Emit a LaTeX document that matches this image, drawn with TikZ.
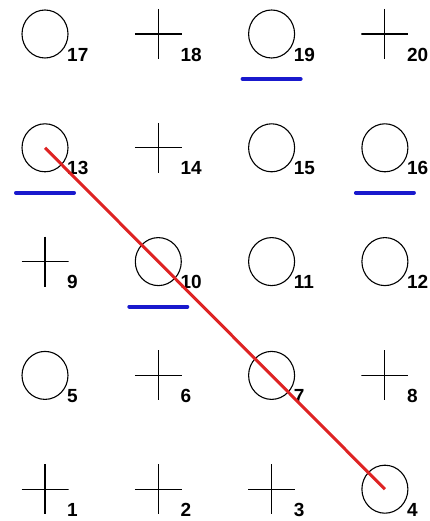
\documentclass[tikz,border=0pt]{standalone}
\usepackage{fontspec}
\setmainfont{Liberation Sans}
\usetikzlibrary{shapes.geometric,calc}
\definecolor{ublue}{RGB}{25,25,205}
\definecolor{ured}{RGB}{222,35,35}
\tikzset{
  ring/.style={ellipse,draw,line width=1.1pt,minimum width=46pt,minimum height=48pt,inner sep=0pt},
  crossmark/.style={rectangle,inner sep=0pt,minimum width=47pt,minimum height=50pt,
    path picture={\draw[line width=1.1pt] (path picture bounding box.north) -- (path picture bounding box.south)
      (path picture bounding box.west) -- (path picture bounding box.east);}},
  num/.style={anchor=west,inner sep=0pt,font=\bfseries\fontsize{19}{19}\selectfont},
  underline/.style={draw=ublue,line width=4pt,line cap=round},
  redline/.style={draw=ured,line width=3pt}
}
\begin{document}
\begin{tikzpicture}[x=1pt,y=-1pt]
\useasboundingbox (0,0) rectangle (430,521);
\foreach \n/\c/\r/\t in {
  1/0/4/crossmark, 2/1/4/crossmark, 3/2/4/crossmark, 4/3/4/ring,
  5/0/3/ring, 6/1/3/crossmark, 7/2/3/ring, 8/3/3/crossmark,
  9/0/2/crossmark, 10/1/2/ring, 11/2/2/ring, 12/3/2/ring,
  13/0/1/ring, 14/1/1/crossmark, 15/2/1/ring, 16/3/1/ring,
  17/0/0/ring, 18/1/0/crossmark, 19/2/0/ring, 20/3/0/crossmark}{
  \node[\t] (m\n) at ({45+113.3*\c},{34+113.8*\r}) {};
  \node[num] (l\n) at ($(m\n)+(22,20.5)$) {\n};
}
\foreach \n in {19,13,16,10}{
  \draw[underline] ($(m\n)+(-29,45)$) -- ($(m\n)+(29,45)$);
}
\draw[redline] (m13.center) -- (m4.center);
\end{tikzpicture}
\end{document}
